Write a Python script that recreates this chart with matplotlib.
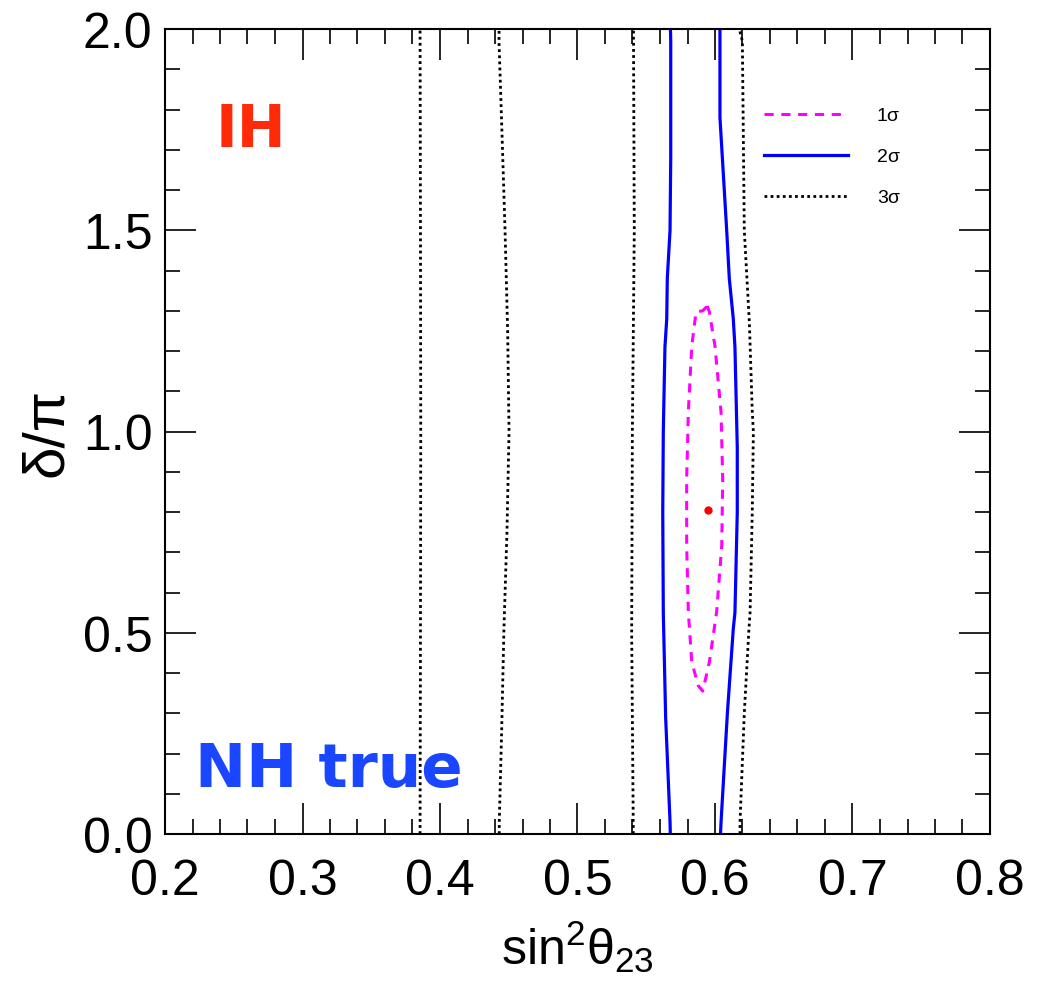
#!/usr/bin/env python3
import matplotlib
matplotlib.use('Agg')
import matplotlib.pyplot as plt
from matplotlib.ticker import MultipleLocator

# contour lines, (sin^2 theta23, delta/pi)
sig1_x = [0.5944, 0.5959, 0.6000, 0.6044, 0.6056, 0.6049, 0.6012, 0.5959, 0.5911,
          0.5879, 0.5831, 0.5806, 0.5794, 0.5794, 0.5806, 0.5831, 0.5862, 0.5911, 0.5944]
sig1_y = [1.312, 1.297, 1.212, 1.048, 0.882, 0.716, 0.552, 0.427, 0.355,
          0.368, 0.427, 0.552, 0.716, 0.882, 1.048, 1.212, 1.297, 1.300, 1.312]

sig2_left_x = [0.5675, 0.5673, 0.5641, 0.5624, 0.5620, 0.5624, 0.5636, 0.5649, 0.5653,
               0.5673, 0.5678, 0.5678, 0.5676]
sig2_left_y = [0.0, 0.03, 0.29, 0.55, 0.80, 1.00, 1.21, 1.28, 1.38, 1.50, 1.68, 1.97, 2.0]
sig2_right_x = [0.6040, 0.6044, 0.6090, 0.6133, 0.6145, 0.6162, 0.6162, 0.6145, 0.6133,
                0.6104, 0.6085, 0.6036, 0.6036]
sig2_right_y = [0.0, 0.03, 0.30, 0.51, 0.55, 0.80, 0.96, 1.21, 1.28, 1.38, 1.50, 1.78, 2.0]

sig3_a_x = [0.3855, 0.3858, 0.3860, 0.3858, 0.3855]
sig3_a_y = [0.0, 0.5, 1.0, 1.5, 2.0]
sig3_b_x = [0.4431, 0.4431, 0.4448, 0.4465, 0.4487, 0.4502, 0.4492, 0.4473, 0.4450, 0.4429, 0.4430]
sig3_b_y = [0.0, 0.03, 0.25, 0.51, 0.75, 1.00, 1.25, 1.50, 1.75, 1.97, 2.0]
sig3_c_x = [0.5406, 0.5394, 0.5399, 0.5413, 0.5407]
sig3_c_y = [0.0, 0.5, 1.0, 1.5, 2.0]
sig3_d_x = [0.6182, 0.6182, 0.6213, 0.6247, 0.6255, 0.6271, 0.6279, 0.6271, 0.6250, 0.6213, 0.6199, 0.6177]
sig3_d_y = [0.0, 0.03, 0.30, 0.51, 0.55, 0.80, 1.00, 1.05, 1.27, 1.50, 1.97, 2.0]

best_fit = (0.5951, 0.806)

plt.rcParams['font.family'] = ['Liberation Sans', 'DejaVu Sans']
plt.rcParams['mathtext.default'] = 'regular'

fig = plt.figure(figsize=(10.48, 9.87), dpi=100)
ax = fig.add_axes([165/1048, 1 - 835/987, 825/1048, 805/987])

dot = (0, (1, 1.2))
dash = (0, (3, 2.5))

ax.plot(sig1_x, sig1_y, color='#ff00ff', lw=2.2, ls=dash, label='1σ')
ax.plot(sig2_left_x, sig2_left_y, color='#0000ff', lw=2.3, label='2σ')
ax.plot(sig2_right_x, sig2_right_y, color='#0000ff', lw=2.3)
ax.plot(sig3_a_x, sig3_a_y, color='black', lw=2, ls=dot, label='3σ')
for xs, ys in [(sig3_b_x, sig3_b_y), (sig3_c_x, sig3_c_y), (sig3_d_x, sig3_d_y)]:
    ax.plot(xs, ys, color='black', lw=2, ls=dot)
ax.plot(*best_fit, 'o', color='#ff0000', ms=6, mec='none')

ax.set_xlim(0.2, 0.8)
ax.set_ylim(0, 2.0)
ax.xaxis.set_major_locator(MultipleLocator(0.1))
ax.xaxis.set_minor_locator(MultipleLocator(0.02))
ax.yaxis.set_major_locator(MultipleLocator(0.5))
ax.yaxis.set_minor_locator(MultipleLocator(0.1))
ax.tick_params(which='both', direction='in', top=True, right=True, width=1.2, labelsize=36)
ax.tick_params(which='major', length=22)
ax.tick_params(which='minor', length=11)
ax.tick_params(axis='x', pad=17)
ax.tick_params(axis='y', pad=9)
for s in ax.spines.values():
    s.set_linewidth(1.5)

ax.set_xlabel('sin$^2$θ$_{23}$', fontsize=36, labelpad=10)
ax.set_ylabel('δ/π', fontsize=42, labelpad=6)

ax.text(0.237, 1.75, 'IH', color='#ff2a08', fontsize=42, fontweight='bold',
        family='DejaVu Sans', va='center')
ax.text(0.222, 0.16, 'NH true', color='#1a46ff', fontsize=44, fontweight='bold',
        family='DejaVu Sans', va='center')

ax.legend(loc='upper right', bbox_to_anchor=(0.912, 0.925), frameon=False, fontsize=14,
          handlelength=4.3, handletextpad=1.5, labelspacing=1.2)

fig.savefig('out.png', dpi=100)
